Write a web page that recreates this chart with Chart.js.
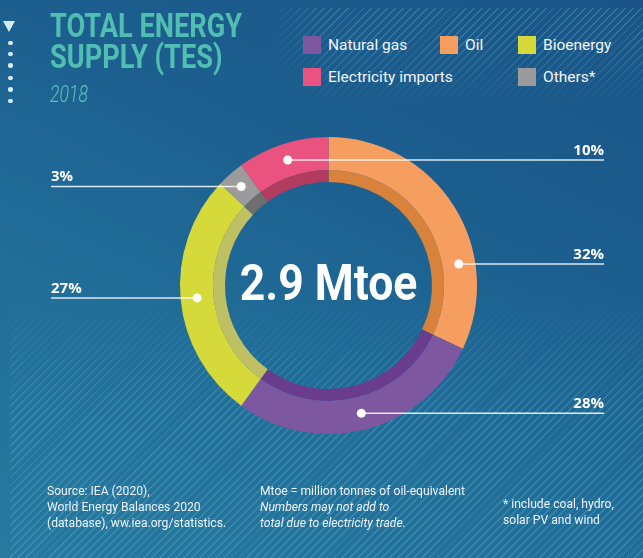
<!DOCTYPE html>
<html>
<head>
<meta charset="utf-8">
<script src="https://cdn.jsdelivr.net/npm/chart.js@4.4.1/dist/chart.umd.min.js"></script>
<style>
html, body { margin: 0; padding: 0; }
body {
    width: 643px; height: 558px; overflow: hidden; position: relative;
    font-family: Roboto, sans-serif;
    background: linear-gradient(205deg, #1A5487 0%, #1C5F8F 35%, #216E99 65%, #2779A0 100%);
}
.fadeLeft, .fadeDown { position: absolute; }
.stripes {
    position: absolute; left: 0; top: 0; right: 0; bottom: 0;
    background: repeating-linear-gradient(135deg, rgba(110, 195, 210, 0.3) 0 1.3px, transparent 1.3px 5.6px);
}
#bottomStripes { left: 10px; right: 0; top: 295px; bottom: 0;
    -webkit-mask-image: linear-gradient(to bottom, transparent 0%, #000 45%); }
#topStripes { left: 268px; right: 0; top: 8px; height: 100px;
    -webkit-mask-image: linear-gradient(to right, transparent 0px, #000 60px); }
#topStripes .inner { position: absolute; left: 0; right: 0; top: 0; bottom: 0;
    -webkit-mask-image: linear-gradient(to bottom, #000 30%, transparent 100%); }
#title {
    position: absolute; left: 50px; top: 10px; white-space: nowrap;
    font-weight: 700; font-size: 34px; line-height: 31px; color: #50BFB1;
    transform: scaleX(0.8); transform-origin: left top;
}
#year {
    position: absolute; left: 50px; top: 82px;
    font-weight: 300; font-style: italic; font-size: 23.5px; line-height: 24px; color: #5BC4B6;
    transform: scaleX(0.75); transform-origin: left top;
}
#deco { position: absolute; left: 0; top: 0; }
.tri { position: absolute; left: 3px; top: 21px; width: 0; height: 0;
    border-left: 6.5px solid transparent; border-right: 6.5px solid transparent; border-top: 11px solid #D3ECEF; }
.dot { position: absolute; left: 8px; width: 4.5px; height: 4.5px; border-radius: 50%; background: #DCEEF3; }
.leg { position: absolute; display: flex; align-items: center; height: 18px;
    font-size: 15.5px; color: #F2F5F8; white-space: nowrap; }
.leg span.box { width: 18px; height: 18px; margin-right: 7px; }
.note { position: absolute; font-size: 12.5px; line-height: 16.3px; color: #EEF3F6; white-space: nowrap;
    transform: scaleX(0.97); transform-origin: left top; }
.note i { font-style: italic; }
canvas { position: absolute; left: 0; top: 0; }
</style>
</head>
<body>
<div id="bottomStripes" class="fadeDown"><div class="stripes"></div></div>
<div id="topStripes" class="fadeLeft"><div class="inner"><div class="stripes"></div></div></div>

<div id="deco">
    <div class="tri"></div>
    <div class="dot" style="top:40.5px"></div>
    <div class="dot" style="top:51.5px"></div>
    <div class="dot" style="top:63px"></div>
    <div class="dot" style="top:75.5px"></div>
    <div class="dot" style="top:87px"></div>
    <div class="dot" style="top:98.7px"></div>
</div>

<div id="title">TOTAL ENERGY<br>SUPPLY (TES)</div>
<div id="year">2018</div>
<div id="legend"></div>

<div class="note" style="left:46.5px; top:482.5px">Source: IEA (2020),<br>World Energy Balances 2020<br>(database), ww.iea.org/statistics.</div>
<div class="note" style="left:259.5px; top:482.5px">Mtoe = million tonnes of oil-equivalent<br><i>Numbers may not add to</i><br><i>total due to electricity trade.</i></div>
<div class="note" style="left:503px; top:495.5px">* include coal, hydro,<br>solar PV and wind</div>

<canvas id="tesChart" width="643" height="558"></canvas>

<script>
// Data, clockwise from 12 o'clock
const categories = ['Oil', 'Natural gas', 'Bioenergy', 'Others*', 'Electricity imports'];
const shares = [32, 28, 27, 3, 10];
const totalLabel = '2.9 Mtoe';
const legendOrder = ['Natural gas', 'Oil', 'Bioenergy', 'Electricity imports', 'Others*'];

// Colours
const outerColors = ['#F69E5F', '#7D57A0', '#D5DA3A', '#9B9B9B', '#EA5280'];
const innerColors = ['#D9823B', '#693C8D', '#BFC063', '#6E6E6E', '#B23B60'];

// --- HTML legend ---
const legendSlots = [[303, 36], [440, 36], [518, 36], [303, 68], [518, 68]];
const legendEl = document.getElementById('legend');
legendOrder.forEach((name, i) => {
    const idx = categories.indexOf(name);
    const item = document.createElement('div');
    item.className = 'leg';
    item.style.left = legendSlots[i][0] + 'px';
    item.style.top = legendSlots[i][1] + 'px';
    item.innerHTML = '<span class="box" style="background:' + outerColors[idx] + '"></span>' + name;
    legendEl.appendChild(item);
});

// --- leader lines with percentage labels ---
const leaderLabels = {
    id: 'leaderLabels',
    afterDatasetsDraw(chart, args, opts) {
        const ctx = chart.ctx;
        const meta = chart.getDatasetMeta(0);
        meta.data.forEach((arc, i) => {
            const p = arc.getProps(['x', 'y', 'startAngle', 'endAngle', 'innerRadius', 'outerRadius'], true);
            const a = p.startAngle + (p.endAngle - p.startAngle) * opts.anchor[i];
            const r = (p.innerRadius + p.outerRadius) / 2;
            const px = p.x + Math.cos(a) * r;
            const py = p.y + Math.sin(a) * r;
            const right = opts.side[i] === 'right';
            const ex = right ? opts.rightX : opts.leftX;

            ctx.save();
            ctx.strokeStyle = 'rgba(255,255,255,0.85)';
            ctx.lineWidth = 1.5;
            ctx.beginPath();
            ctx.moveTo(px, py);
            ctx.lineTo(ex, py);
            ctx.stroke();

            ctx.fillStyle = '#FFFFFF';
            ctx.beginPath();
            ctx.arc(px, py, 4.5, 0, Math.PI * 2);
            ctx.fill();

            ctx.font = 'bold 15px "Open Sans"';
            ctx.textAlign = right ? 'right' : 'left';
            ctx.textBaseline = 'alphabetic';
            ctx.fillText(chart.data.datasets[0].data[i] + '%', ex, py - 5);
            ctx.restore();
        });
    }
};

const centerText = {
    id: 'centerText',
    afterDatasetsDraw(chart) {
        const ctx = chart.ctx;
        const arc = chart.getDatasetMeta(0).data[0];
        ctx.save();
        ctx.translate(arc.x, arc.y + 14);
        ctx.scale(0.89, 1);
        ctx.font = 'bold 50px Roboto';
        ctx.fillStyle = '#FFFFFF';
        ctx.textAlign = 'center';
        ctx.textBaseline = 'alphabetic';
        ctx.fillText(totalLabel, 0, 0);
        ctx.restore();
    }
};

const ctx = document.getElementById('tesChart').getContext('2d');
new Chart(ctx, {
    type: 'doughnut',
    data: {
        labels: categories,
        datasets: [
            {
                data: shares,
                backgroundColor: outerColors,
                borderWidth: 0,
                weight: 33
            },
            {
                data: shares,
                backgroundColor: innerColors,
                borderWidth: 0,
                weight: 12
            }
        ]
    },
    options: {
        responsive: false,
        animation: false,
        events: [],
        cutout: '69.7%',
        layout: {
            padding: { left: 180, right: 166, top: 137, bottom: 124 }
        },
        plugins: {
            legend: { display: false },
            tooltip: { enabled: false },
            leaderLabels: {
                anchor: [0.70, 0.5, 0.5, 0.5, 0.5],
                side: ['right', 'right', 'left', 'left', 'right'],
                leftX: 51,
                rightX: 604
            }
        }
    },
    plugins: [leaderLabels, centerText]
});
</script>
</body>
</html>
